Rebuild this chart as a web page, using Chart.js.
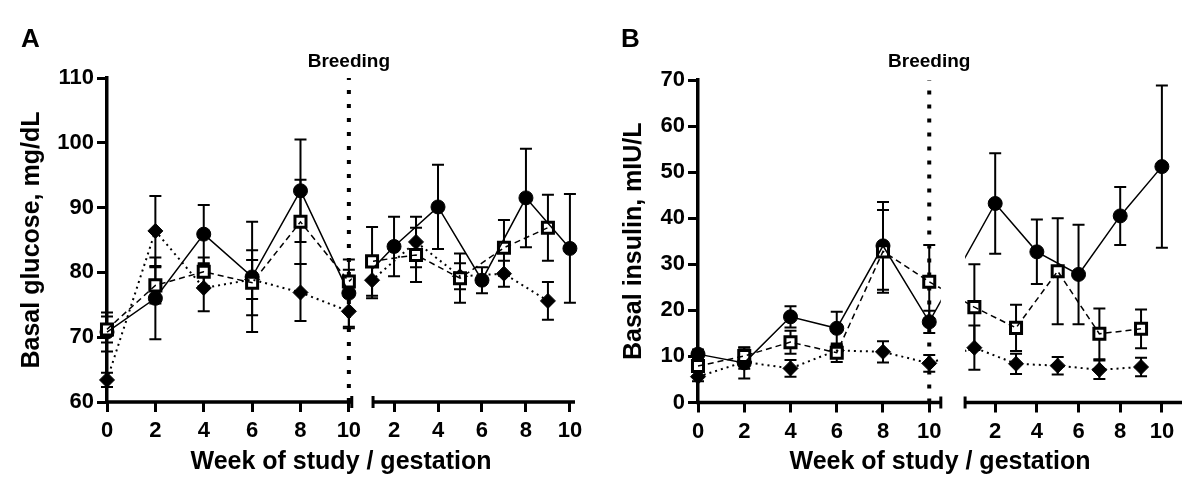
<!DOCTYPE html>
<html>
<head>
<meta charset="utf-8">
<script src="https://cdn.jsdelivr.net/npm/chart.js@4.4.0/dist/chart.umd.min.js"></script>
<style>
  body { margin: 0; background: #fff; }
  .panel { position: absolute; top: 0; width: 600px; height: 500px; }
</style>
</head>
<body>
<div class="panel" style="left:0"><canvas id="chartA" width="600" height="500"></canvas></div>
<div class="panel" style="left:600px"><canvas id="chartB" width="600" height="500"></canvas></div>
<script>
// weeks on the two halves of the broken x axis
const studyWeeks = [0, 2, 4, 6, 8, 10];
const gestWeeksCircle = [2, 4, 6, 8, 10];
const gestWeeksOdd = [1, 3, 5, 7, 9];
const xTickStudy = [0, 2, 4, 6, 8, 10];
const xTickGest = [2, 4, 6, 8, 10];
const breedingWeek = 10;

// A - basal glucose (mg/dL), mean and error
const glucoseCircleStudy = [70.8, 76.0, 85.9, 79.3, 92.6, 76.8];
const glucoseCircleGest = [84.0, 90.1, 78.8, 91.5, 83.7];
const glucoseCircleErr = [3.0, 6.3, 4.5, 8.5, 7.9, 5.2, 4.6, 6.5, 2.0, 7.6, 8.4];
const glucoseSquareStudy = [71.2, 78.0, 80.1, 78.4, 87.8, 78.6];
const glucoseSquareGest = [81.7, 82.7, 79.1, 83.8, 86.9];
const glucoseSquareErr = [2.0, 2.8, 2.2, 5.0, 6.5, 1.8, 5.3, 4.2, 3.8, 4.3, 5.1];
const glucoseDiamondStudy = [63.4, 86.4, 77.6, 78.9, 76.9, 74.0];
const glucoseDiamondGest = [78.8, 84.7, 79.4, 79.8, 75.6];
const glucoseDiamondErr = [1.1, 5.4, 3.6, 3.0, 4.4, 2.6, 2.8, 3.9, 2.0, 2.0, 2.9];

// B - basal insulin (mIU/L), mean and error
const insulinCircleStudy = [10.5, 8.6, 18.6, 16.1, 34.0, 17.5];
const insulinCircleGest = [43.2, 32.7, 27.8, 40.5, 51.2];
const insulinCircleErr = [1.0, 3.4, 2.3, 3.6, 9.5, 2.4, 10.9, 7.0, 10.8, 6.3, 17.6];
const insulinSquareStudy = [7.9, 10.1, 13.1, 10.8, 32.8, 26.2];
const insulinSquareGest = [20.7, 16.2, 28.5, 14.9, 16.0];
const insulinSquareErr = [1.2, 1.8, 2.5, 2.0, 9.0, 8.0, 9.3, 5.0, 11.5, 5.5, 4.2];
const insulinDiamondStudy = [5.6, 8.8, 7.4, 11.3, 11.0, 8.5];
const insulinDiamondGest = [11.9, 8.4, 8.0, 7.1, 7.7];
const insulinDiamondErr = [1.0, 1.5, 1.8, 1.0, 2.3, 1.8, 4.8, 2.2, 1.9, 2.0, 2.0];

const FONT = "'Liberation Sans', Arial, Helvetica, sans-serif";

// error bars, broken x axis, gap clipping and labels
const decor = {
  id: 'decor',
  beforeDatasetsDraw(chart, args, opts) {
    const { ctx, chartArea: a, scales: { x, y } } = chart;
    ctx.save();
    ctx.strokeStyle = '#000';
    ctx.lineWidth = 2;
    chart.data.datasets.forEach((ds, di) => {
      if (!ds.errors) return;
      chart.getDatasetMeta(di).data.forEach((pt, i) => {
        const v = ds.data[i].y, e = ds.errors[i];
        const y1 = y.getPixelForValue(v + e), y2 = y.getPixelForValue(v - e);
        ctx.beginPath();
        ctx.moveTo(pt.x, y1); ctx.lineTo(pt.x, y2);
        ctx.moveTo(pt.x - 6, y1); ctx.lineTo(pt.x + 6, y1);
        ctx.moveTo(pt.x - 6, y2); ctx.lineTo(pt.x + 6, y2);
        ctx.stroke();
      });
    });
    // axis line in two pieces
    const g1 = x.getPixelForValue(opts.leftEnd), g2 = x.getPixelForValue(opts.rightStart);
    ctx.lineWidth = 3.5;
    ctx.beginPath();
    ctx.moveTo(a.left - 1.75, a.bottom); ctx.lineTo(g1, a.bottom);
    ctx.moveTo(g2, a.bottom); ctx.lineTo(a.right, a.bottom);
    ctx.stroke();
    ctx.lineWidth = 3;
    ctx.beginPath();
    ctx.moveTo(g1, a.bottom - 6); ctx.lineTo(g1, a.bottom + 6);
    ctx.moveTo(g2, a.bottom - 6); ctx.lineTo(g2, a.bottom + 6);
    ctx.stroke();
    ctx.restore();
  },
  beforeDatasetDraw(chart, args, opts) {
    if (!chart.data.datasets[args.index].gapClip) return;
    const { ctx, scales: { x } } = chart;
    const g1 = x.getPixelForValue(opts.leftEnd), g2 = x.getPixelForValue(opts.rightStart);
    ctx.save();
    ctx.beginPath();
    ctx.rect(0, 0, g1, chart.height);
    ctx.rect(g2, 0, chart.width - g2, chart.height);
    ctx.clip();
  },
  afterDatasetDraw(chart, args) {
    if (chart.data.datasets[args.index].gapClip) chart.ctx.restore();
  },
  afterDraw(chart, args, opts) {
    const { ctx, scales: { x } } = chart;
    ctx.save();
    ctx.fillStyle = '#000';
    ctx.textBaseline = 'alphabetic';
    ctx.font = 'bold 26px ' + FONT;
    ctx.textAlign = 'left';
    ctx.fillText(opts.letter, 21, 47);
    ctx.font = 'bold 19px ' + FONT;
    ctx.textAlign = 'center';
    ctx.fillText('Breeding', x.getPixelForValue(breedingWeek), 67);
    ctx.restore();
  }
};

function points(cfg, studyVals, gestWeeks, gestVals) {
  return studyWeeks.map((w, i) => ({ x: w, y: studyVals[i] }))
    .concat(gestWeeks.map((g, i) => ({ x: cfg.gestStart + g * cfg.gestScale, y: gestVals[i] })));
}

function makeChart(id, cfg) {
  const circles = points(cfg, cfg.circleStudy, gestWeeksCircle, cfg.circleGest);
  const squares = points(cfg, cfg.squareStudy, gestWeeksOdd, cfg.squareGest);
  const diamonds = points(cfg, cfg.diamondStudy, gestWeeksOdd, cfg.diamondGest);
  const tickPos = xTickStudy.concat(xTickGest.map(g => cfg.gestStart + g * cfg.gestScale));
  const tickLabels = xTickStudy.concat(xTickGest);
  const tickFont = { family: FONT, size: 22, weight: 'bold' };

  return new Chart(document.getElementById(id), {
    type: 'line',
    data: {
      datasets: [
        { data: circles, borderColor: '#000', borderWidth: 1.5, pointRadius: 0, gapClip: true, order: 1 },
        { data: squares, borderColor: '#000', borderWidth: 1.5, borderDash: [6, 4], pointRadius: 0, gapClip: true, order: 1 },
        { data: diamonds, borderColor: '#000', borderWidth: 2, borderDash: [2, 4], pointRadius: 0, gapClip: true, order: 1 },
        { data: diamonds, showLine: false, pointStyle: 'rectRot', pointRadius: 7.5, pointBackgroundColor: '#000', pointBorderColor: '#000', pointBorderWidth: 1, errors: cfg.diamondErr, order: 4 },
        { data: circles, showLine: false, pointStyle: 'circle', pointRadius: 7, pointBackgroundColor: '#000', pointBorderColor: '#000', pointBorderWidth: 1, errors: cfg.circleErr, order: 3 },
        { data: squares, showLine: false, pointStyle: 'rect', pointRadius: 7.8, pointBackgroundColor: '#fff', pointBorderColor: '#000', pointBorderWidth: 3, errors: cfg.squareErr, order: 2 },
        { data: [{ x: breedingWeek, y: cfg.yMin }, { x: breedingWeek, y: cfg.yMax }], borderColor: '#000', borderWidth: 4, borderDash: [4, 10], pointRadius: 0, order: 0 }
      ]
    },
    options: {
      responsive: false,
      animation: false,
      events: [],
      clip: false,
      layout: { padding: { top: cfg.padTop, right: cfg.padRight, left: 0, bottom: 0 } },
      plugins: {
        legend: { display: false },
        tooltip: { enabled: false },
        decor: { leftEnd: cfg.leftEnd, rightStart: cfg.rightStart, letter: cfg.letter }
      },
      scales: {
        x: {
          type: 'linear',
          min: 0,
          max: cfg.axisMax,
          afterBuildTicks: s => { s.ticks = tickPos.map(v => ({ value: v })); },
          afterFit: s => { s.height = cfg.xHeight; },
          border: { display: false },
          grid: { drawOnChartArea: false, tickLength: 10, lineWidth: 3, color: '#000' },
          ticks: { autoSkip: false, maxRotation: 0, padding: 6, color: '#000', font: tickFont,
                   callback: (v, i) => tickLabels[i] },
          title: { display: true, text: 'Week of study / gestation', color: '#000',
                   font: { family: FONT, size: 25, weight: 'bold' }, padding: { top: 0, bottom: 23 } }
        },
        y: {
          min: cfg.yMin,
          max: cfg.yMax,
          afterFit: s => { s.width = cfg.yWidth; },
          border: { display: true, color: '#000', width: 3.5 },
          grid: { drawOnChartArea: false, tickLength: 10, lineWidth: 3, color: '#000' },
          ticks: { stepSize: 10, padding: 3, color: '#000', font: tickFont },
          title: { display: true, text: cfg.yTitle, color: '#000',
                   font: { family: FONT, size: 25, weight: 'bold' }, padding: { top: cfg.yTitlePad, bottom: 0 } }
        }
      }
    },
    plugins: [decor]
  });
}

makeChart('chartA', {
  letter: 'A', yTitle: 'Basal glucose, mg/dL', yMin: 60, yMax: 110,
  gestStart: 10.05, gestScale: 0.909, leftEnd: 10.12, rightStart: 11.0, axisMax: 19.35,
  padTop: 78, padRight: 25, yWidth: 107, xHeight: 98, yTitlePad: 17,
  circleStudy: glucoseCircleStudy, circleGest: glucoseCircleGest, circleErr: glucoseCircleErr,
  squareStudy: glucoseSquareStudy, squareGest: glucoseSquareGest, squareErr: glucoseSquareErr,
  diamondStudy: glucoseDiamondStudy, diamondGest: glucoseDiamondGest, diamondErr: glucoseDiamondErr
});

makeChart('chartB', {
  letter: 'B', yTitle: 'Basal insulin, mIU/L', yMin: 0, yMax: 70,
  gestStart: 11.05, gestScale: 0.901, leftEnd: 10.5, rightStart: 11.55, axisMax: 20.93,
  padTop: 80, padRight: 18, yWidth: 98, xHeight: 97.5, yTitlePad: 19,
  circleStudy: insulinCircleStudy, circleGest: insulinCircleGest, circleErr: insulinCircleErr,
  squareStudy: insulinSquareStudy, squareGest: insulinSquareGest, squareErr: insulinSquareErr,
  diamondStudy: insulinDiamondStudy, diamondGest: insulinDiamondGest, diamondErr: insulinDiamondErr
});
</script>
</body>
</html>
